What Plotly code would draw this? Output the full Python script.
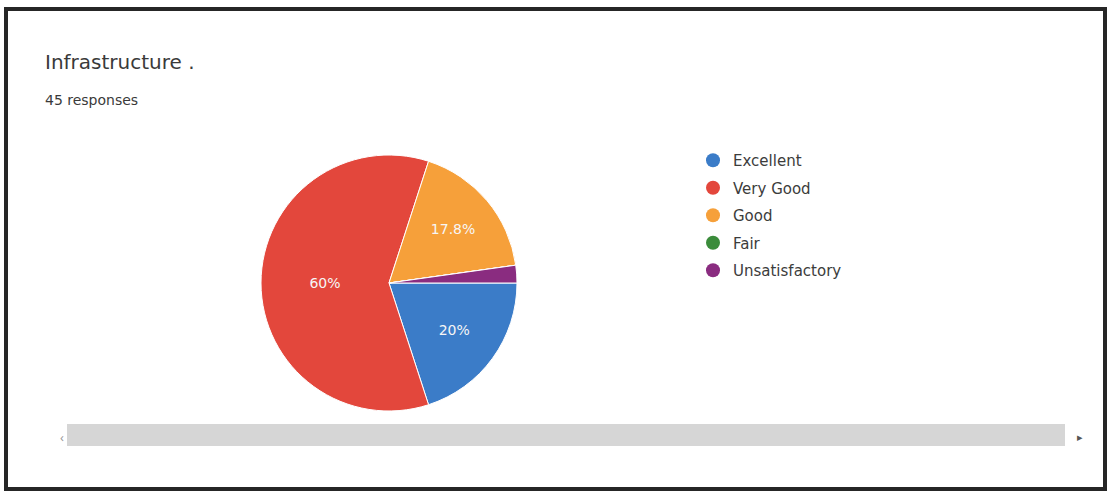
import plotly.graph_objects as go

# ── Data ────────────────────────────────────────────────
labels = ["Excellent", "Very Good", "Good", "Fair", "Unsatisfactory"]
counts = [9, 27, 8, 0, 1]
colors = ["#3b7cc8", "#e3473c", "#f6a03a", "#3b8c3b", "#8a2c80"]
show_pct = [True, True, True, True, False]

W, H = 1108, 491


def px(x):
    return x / W


def py(y):
    return 1 - y / H


fig = go.Figure()

fig.add_trace(go.Pie(
    labels=labels, values=counts,
    marker=dict(colors=colors, line=dict(color="white", width=1)),
    sort=False, direction="clockwise", rotation=90,
    texttemplate=["%{percent}" if s else "" for s in show_pct],
    textposition="inside", insidetextorientation="horizontal",
    textfont=dict(family="DejaVu Sans", size=14, color="#f6f6f6"),
    domain=dict(x=[px(261), px(517)], y=[py(411), py(155)]),
    showlegend=False, hoverinfo="label+percent",
))

# legend with round markers, one dummy trace per category
for lab, col in zip(labels, colors):
    fig.add_trace(go.Scatter(
        x=[None], y=[None], mode="markers", name=lab, legendgroup=lab,
        marker=dict(color=col, size=14, symbol="circle"),
    ))

fig.update_xaxes(visible=False)
fig.update_yaxes(visible=False)

shapes = [
    # outer scan border
    dict(type="rect", xref="paper", yref="paper", x0=px(6), x1=px(1105), y0=py(489), y1=py(9),
         line=dict(color="#262626", width=4), fillcolor="rgba(0,0,0,0)"),
    # scroll bar
    dict(type="rect", xref="paper", yref="paper", x0=px(67), x1=px(1065), y0=py(446), y1=py(424),
         line=dict(width=0), fillcolor="#d6d6d6"),
]

annotations = [
    dict(text="Infrastructure .", x=px(43), y=py(62), xref="paper", yref="paper",
         xanchor="left", yanchor="middle", showarrow=False,
         font=dict(family="DejaVu Sans", size=20, color="#3a3a3a")),
    dict(text="45 responses", x=px(43), y=py(100), xref="paper", yref="paper",
         xanchor="left", yanchor="middle", showarrow=False,
         font=dict(family="DejaVu Sans", size=14, color="#3a3a3a")),
    dict(text="‹", x=px(62), y=py(437), xref="paper", yref="paper",
         xanchor="center", yanchor="middle", showarrow=False,
         font=dict(size=13, color="#999999")),
    dict(text="▸", x=px(1080), y=py(436), xref="paper", yref="paper",
         xanchor="center", yanchor="middle", showarrow=False,
         font=dict(size=11, color="#555555")),
]

fig.update_layout(
    width=W, height=H,
    margin=dict(l=0, r=0, t=0, b=0),
    paper_bgcolor="white", plot_bgcolor="white",
    shapes=shapes, annotations=annotations,
    legend=dict(
        x=px(693), y=py(144), xanchor="left", yanchor="top",
        font=dict(family="DejaVu Sans", size=15, color="#3c3c3c"),
        tracegroupgap=5, itemwidth=30, bgcolor="rgba(0,0,0,0)",
    ),
)

fig.write_html("out.html", config={"displayModeBar": False},
               post_script="document.body.style.margin='0';")
